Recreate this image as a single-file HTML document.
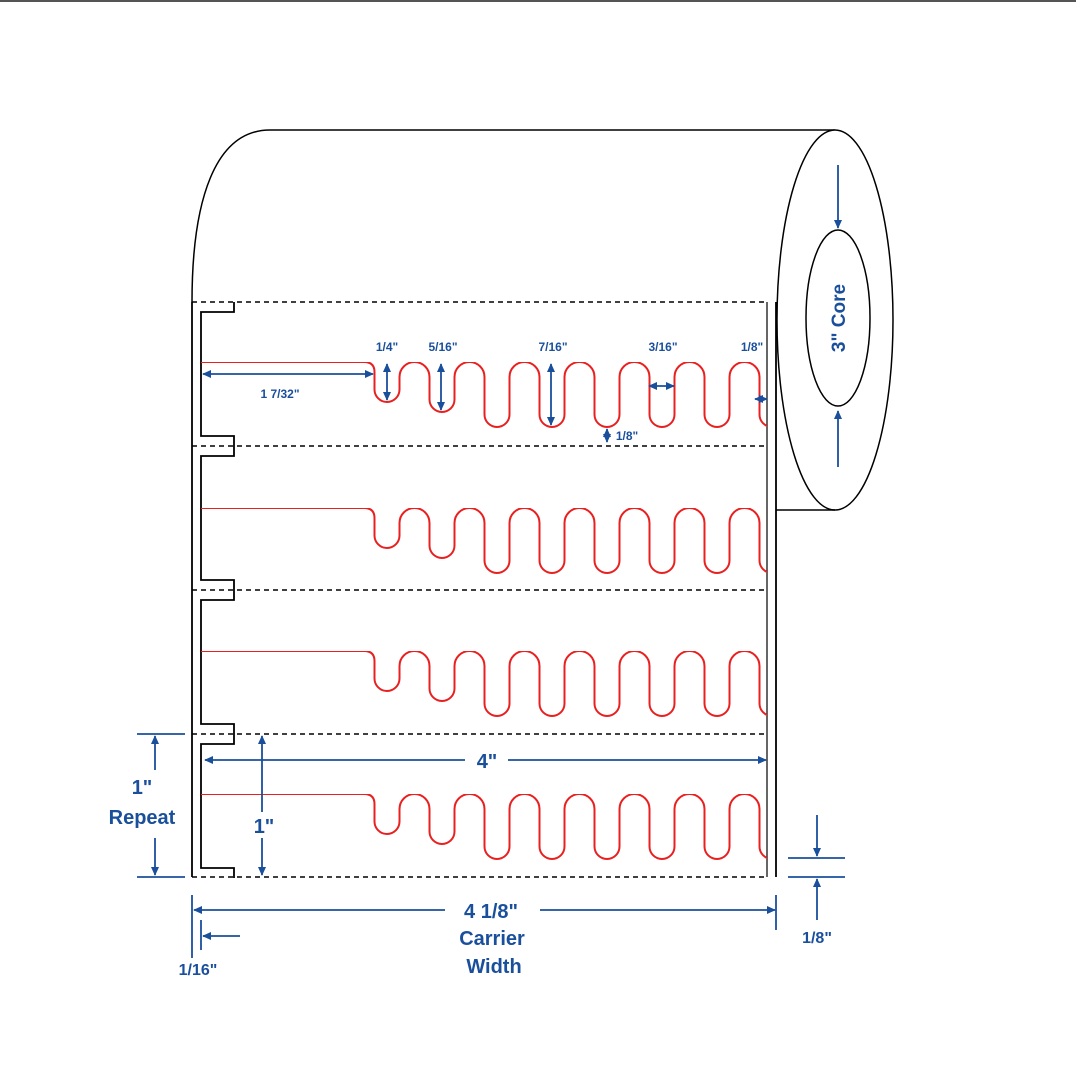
<!DOCTYPE html>
<html><head><meta charset="utf-8"><style>
html,body{margin:0;padding:0;background:#fff}
svg{display:block}
text{font-family:"Liberation Sans",sans-serif;font-weight:bold;fill:#1a4f9c}
</style></head><body>
<svg width="1076" height="1076" viewBox="0 0 1076 1076" xmlns="http://www.w3.org/2000/svg">
<defs>
<marker id="a" viewBox="0 0 10 10" refX="9" refY="5" markerWidth="5" markerHeight="5" orient="auto-start-reverse"><path d="M0,0.5 L10,5 L0,9.5 z" fill="#1a4f9c"/></marker>
<clipPath id="cl"><rect x="0" y="0" width="767" height="1076"/></clipPath>
<g id="wave">
<path clip-path="url(#cl)" fill="none" stroke="#e8201f" stroke-width="2" d="M201,0 H364 Q374.5,0 374.5,10 V27.5 A12.5,12.5 0 0 0 399.5,27.5 V15 A15,15 0 0 1 429.5,15 V37.5 A12.5,12.5 0 0 0 454.5,37.5 V15 A15,15 0 0 1 484.5,15 V52.5 A12.5,12.5 0 0 0 509.5,52.5 V15 A15,15 0 0 1 539.5,15 V52.5 A12.5,12.5 0 0 0 564.5,52.5 V15 A15,15 0 0 1 594.5,15 V52.5 A12.5,12.5 0 0 0 619.5,52.5 V15 A15,15 0 0 1 649.5,15 V52.5 A12.5,12.5 0 0 0 674.5,52.5 V15 A15,15 0 0 1 704.5,15 V52.5 A12.5,12.5 0 0 0 729.5,52.5 V15 A15,15 0 0 1 759.5,15 V52.5 A12.5,12.5 0 0 0 784.5,52.5"/>
</g>
<g id="edge"><path fill="none" stroke="#000" stroke-width="1.8" d="M234,0 V10 H201 V134 H234 V144"/></g>
</defs>
<line x1="0" y1="1" x2="1076" y2="1" stroke="#555" stroke-width="2"/>
<!-- roll -->
<path fill="none" stroke="#000" stroke-width="1.5" d="M192,302 C192,200 215,130 270,130 H835"/>
<ellipse cx="835" cy="320" rx="58" ry="190" fill="#fff" stroke="#000" stroke-width="1.5"/>
<ellipse cx="838" cy="318" rx="32" ry="88" fill="none" stroke="#000" stroke-width="1.5"/>
<line x1="776" y1="510" x2="835" y2="510" stroke="#000" stroke-width="1.5"/>
<rect x="192" y="302" width="584" height="575" fill="#fff"/>
<line x1="192" y1="302" x2="192" y2="877" stroke="#000" stroke-width="1.8"/>
<line x1="776" y1="302" x2="776" y2="877" stroke="#000" stroke-width="1.8"/>
<line x1="767" y1="302" x2="767" y2="877" stroke="#000" stroke-width="1.2"/>
<g stroke="#000" stroke-width="1.6" stroke-dasharray="5,4">
<line x1="192" y1="302" x2="767" y2="302"/><line x1="192" y1="446" x2="767" y2="446"/>
<line x1="192" y1="590" x2="767" y2="590"/><line x1="192" y1="734" x2="767" y2="734"/>
<line x1="192" y1="877" x2="767" y2="877"/>
</g>
<use href="#edge" y="302"/><use href="#edge" y="446"/><use href="#edge" y="590"/><use href="#edge" y="734"/>
<use href="#wave" y="362"/><use href="#wave" y="508"/><use href="#wave" y="651"/><use href="#wave" y="794"/>
<!-- core -->
<g stroke="#1a4f9c" stroke-width="1.8" fill="none" marker-end="url(#a)">
<line x1="838" y1="165" x2="838" y2="228"/><line x1="838" y1="467" x2="838" y2="411"/>
</g>
<text x="838" y="318" font-size="19" text-anchor="middle" transform="rotate(-90 838 318)" dy="7">3" Core</text>
<!-- top dims -->
<g stroke="#1a4f9c" stroke-width="1.8" fill="none" marker-start="url(#a)" marker-end="url(#a)">
<line x1="203" y1="374" x2="373" y2="374"/>
<line x1="387" y1="364" x2="387" y2="400"/>
<line x1="441" y1="364" x2="441" y2="410"/>
<line x1="551" y1="364" x2="551" y2="425"/>
<line x1="649" y1="386" x2="674" y2="386"/>
<line x1="755" y1="399" x2="767" y2="399"/>
<line x1="607" y1="429" x2="607" y2="442"/>
</g>
<g font-size="12">
<text x="280" y="398" text-anchor="middle">1 7/32"</text>
<text x="387" y="351" text-anchor="middle">1/4"</text>
<text x="443" y="351" text-anchor="middle">5/16"</text>
<text x="553" y="351" text-anchor="middle">7/16"</text>
<text x="663" y="351" text-anchor="middle">3/16"</text>
<text x="752" y="351" text-anchor="middle">1/8"</text>
<text x="627" y="440" text-anchor="middle">1/8"</text>
</g>
<!-- bottom dims -->
<g stroke="#1a4f9c" stroke-width="1.8" fill="none">
<line x1="137" y1="734" x2="185" y2="734"/><line x1="137" y1="877" x2="185" y2="877"/>
<line x1="192" y1="895" x2="192" y2="958"/><line x1="776" y1="895" x2="776" y2="930"/>
<line x1="201" y1="920" x2="201" y2="950"/>
<line x1="788" y1="858" x2="845" y2="858"/><line x1="788" y1="877" x2="845" y2="877"/>
</g>
<g stroke="#1a4f9c" stroke-width="1.8" fill="none" marker-end="url(#a)">
<line x1="155" y1="770" x2="155" y2="736"/><line x1="155" y1="838" x2="155" y2="875"/>
<line x1="465" y1="760" x2="205" y2="760"/><line x1="508" y1="760" x2="766" y2="760"/>
<line x1="445" y1="910" x2="194" y2="910"/><line x1="540" y1="910" x2="775" y2="910"/>
<line x1="240" y1="936" x2="203" y2="936"/>
<line x1="817" y1="815" x2="817" y2="856"/><line x1="817" y1="920" x2="817" y2="879"/>
</g>
<g stroke="#1a4f9c" stroke-width="1.8" fill="none" marker-start="url(#a)" marker-end="url(#a)">
<line x1="262" y1="736" x2="262" y2="875"/>
</g>
<rect x="250" y="812" width="25" height="26" fill="#fff"/>
<g font-size="20">
<text x="142" y="794" text-anchor="middle">1"</text>
<text x="142" y="824" text-anchor="middle">Repeat</text>
<text x="264" y="833" text-anchor="middle">1"</text>
<text x="487" y="768" text-anchor="middle">4"</text>
<text x="491" y="918" text-anchor="middle">4 1/8"</text>
<text x="492" y="945" text-anchor="middle">Carrier</text>
<text x="494" y="973" text-anchor="middle">Width</text>
</g>
<g font-size="16">
<text x="198" y="975" text-anchor="middle">1/16"</text>
<text x="817" y="943" text-anchor="middle">1/8"</text>
</g>
</svg>
</body></html>
